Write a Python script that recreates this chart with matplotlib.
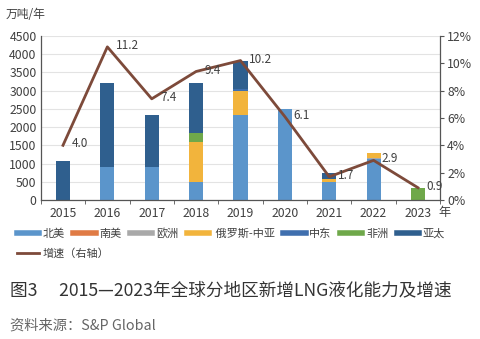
import matplotlib
matplotlib.use("Agg")
import matplotlib.pyplot as plt
from matplotlib.lines import Line2D
import numpy as np

plt.rcParams['font.family'] = ['Noto Sans CJK SC', 'DejaVu Sans']

years = ['2015', '2016', '2017', '2018', '2019', '2020', '2021', '2022', '2023']
regions = ['北美', '南美', '欧洲', ' 俄罗斯-中亚', '中东', '非洲', '亚太']
north_america = [0, 900, 900, 490, 2340, 2500, 500, 1120, 0]
south_america = [0, 0, 0, 0, 0, 0, 0, 0, 0]
europe = [0, 0, 0, 0, 0, 0, 0, 30, 0]
russia_ca = [0, 0, 0, 1110, 650, 0, 80, 150, 0]
middle_east = [0, 0, 0, 0, 50, 0, 0, 0, 0]
africa = [0, 0, 0, 230, 0, 0, 0, 0, 320]
asia_pacific = [1080, 2300, 1420, 1370, 780, 0, 150, 0, 0]
growth = [4.0, 11.2, 7.4, 9.4, 10.2, 6.1, 1.7, 2.9, 0.9]

series = [north_america, south_america, europe, russia_ca, middle_east, africa, asia_pacific]
colors = ['#5b95cb', '#e07b45', '#a9a9a9', '#f2b43c', '#3f6fae', '#6fa84a', '#2f5f8e']
line_color = '#7d4a3a'
text_color = '#404040'

fig = plt.figure(figsize=(4.8, 3.39), dpi=100)
ax = fig.add_axes([0.085, 0.41, 0.832, 0.484])

x = np.arange(len(years))
bottom = np.zeros(len(years))
for vals, col in zip(series, colors):
    v = np.array(vals, dtype=float)
    ax.bar(x, v, width=0.32, bottom=bottom, color=col, zorder=2)
    bottom += v

ax.set_xlim(-0.5, len(years) - 0.5)
ax.set_ylim(0, 4500)
ax.set_yticks(np.arange(0, 4501, 500))
ax.yaxis.grid(True, color='#e3e3e3', linewidth=0.8, zorder=0)
ax.set_axisbelow(True)
ax.set_xticks(x)
ax.set_xticklabels(years)
ax.set_xticks(np.arange(-0.5, len(years)), minor=True)
ax.tick_params(axis='x', which='major', length=0, labelsize=8.8, colors=text_color, pad=5)
ax.tick_params(axis='x', which='minor', length=3, color='#555555', direction='out')
ax.tick_params(axis='y', length=0, labelsize=8.8, colors=text_color, pad=3)
for s in ['top', 'right']:
    ax.spines[s].set_visible(False)
for s in ['left', 'bottom']:
    ax.spines[s].set_color('#555555')
    ax.spines[s].set_linewidth(0.9)

ax2 = ax.twinx()
ax2.set_ylim(0, 12)
ax2.set_yticks(np.arange(0, 13, 2))
ax2.set_yticklabels([f'{v}%' for v in range(0, 13, 2)])
ax2.tick_params(axis='y', length=3, labelsize=8.8, colors=text_color, color='#555555', pad=2)
for s in ['top', 'left', 'bottom']:
    ax2.spines[s].set_visible(False)
ax2.spines['right'].set_color('#555555')
ax2.spines['right'].set_linewidth(0.9)
ax2.plot(x, growth, color=line_color, linewidth=2, zorder=3)
for xi, g in zip(x, growth):
    ax2.annotate(f'{g:.1f}', (xi, g), xytext=(6, 1), textcoords='offset points',
                 fontsize=8.5, color=text_color, ha='left', va='center')

fig.text(0.012, 0.958, '万吨/年', fontsize=8.5, color=text_color, ha='left', va='center')
fig.text(0.914, 0.372, '年', fontsize=8.8, color=text_color, ha='left', va='center')

bar_handles = [Line2D([0], [0], color=c, linewidth=4) for c in colors]
leg1 = fig.legend(bar_handles, regions, loc='upper left', bbox_to_anchor=(0.035, 0.328),
                  ncol=7, frameon=False, fontsize=8, handlelength=2.0,
                  handletextpad=0.35, columnspacing=0.75, borderaxespad=0, borderpad=0)
for t in leg1.get_texts():
    t.set_color(text_color)
leg2 = fig.legend([Line2D([0], [0], color=line_color, linewidth=2)], ['增速（右轴）'],
                  loc='upper left', bbox_to_anchor=(0.035, 0.267), frameon=False,
                  fontsize=8, handlelength=2.0, handletextpad=0.35, borderaxespad=0, borderpad=0)
for t in leg2.get_texts():
    t.set_color(text_color)

fig.text(0.02, 0.143, '图3\u2003 2015—2023年全球分地区新增LNG液化能力及增速',
         fontsize=12.7, color='#333333', ha='left', va='center')
fig.text(0.02, 0.04, '资料来源：S&P Global', fontsize=10.3, color='#666666',
         ha='left', va='center')

fig.savefig('out.png', dpi=100)
